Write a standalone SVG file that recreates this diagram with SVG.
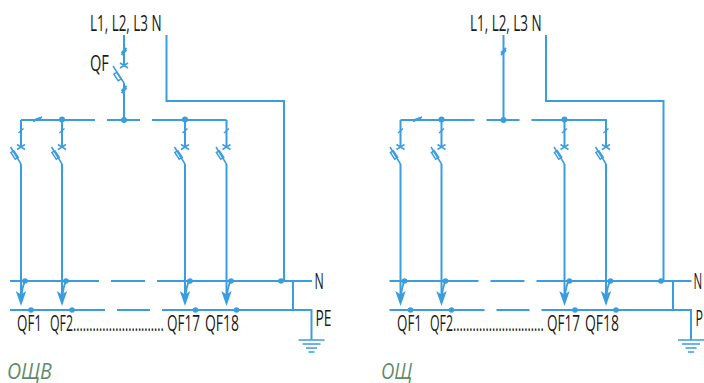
<svg xmlns="http://www.w3.org/2000/svg" xmlns:xlink="http://www.w3.org/1999/xlink" width="704" height="383" viewBox="0 0 704 383">
<style>
.w{fill:none;stroke:#3a9de0;stroke-width:2}
.t{fill:none;stroke:#3a9de0;stroke-width:1.500}
.k{fill:none;stroke:#3a9de0;stroke-width:1.800}
.d{fill:#3a9de0;stroke:none}
text{font-family:"Open Sans","Noto Sans",sans-serif;fill:#1a1a1a;font-size:21px}
.c{fill:#5f8a68;font-style:italic;font-size:22px}
</style>
<defs>
<g id="feeder">
<path class="w" d="M0 0V27"/>
<path class="t" d="M-2.500 13L2.500 8.500M-4 29.500L4 24.500M-4 24.500L4 29.500"/>
<path class="t" d="M-10.500 27L0 44"/>
<rect class="t" x="-8.200" y="31" width="3.500" height="8" transform="rotate(-33 -6.500 35)"/>
<path class="w" d="M0 44V176"/>
<path class="k" d="M4 161Q1.500 166 0.500 176"/>
<path class="d" d="M-5.200 171L0 174.500L5.200 171L0 186Z"/>
</g>
<g id="earth"><path class="w" d="M-13 0H13M-9 4H9M-5.500 8H5.500M-3 12H3" style="stroke-width:1.500"/></g>
</defs>
<g id="connectors">
<path class="w" d="M124 35V65M124 83V120"/>
<path class="w" d="M166.500 35V101H284V281"/>
<path class="w" d="M21 120H95M107 120H140M152 120H226.500M226.500 120V121"/>
<path class="w" d="M10 281H99M111 281H145M157 281H312M10 310H105M117 310H150M162 310H311.500V340M293 281V310" stroke-linejoin="miter"/>
<path class="k" d="M121.500 53L126.500 48M121.500 55L126.500 50M121.500 91L126.500 86M121.500 93L126.500 88"/>
<path class="t" d="M120 68L128 63M120 63L128 68M113 66L124 83"/>
<rect class="t" x="115.700" y="72.500" width="3.500" height="8" transform="rotate(-33 117.500 76.500)"/>
<path class="w" d="M503.500 35V120"/>
<path class="k" d="M501 53L506 48M501 55L506 50"/>
<path class="w" d="M546 35V101H663.500V281"/>
<path class="w" d="M400.500 120H474.500M486.500 120H519.500M531.500 120H606V121"/>
<path class="w" d="M389.500 281H478.500M490.500 281H524.500M536.500 281H691.500M389.500 310H484.500M496.500 310H529.500M541.500 310H691V340M673 281V310"/>
<path class="k" d="M33 121.500L41 118M34 120L42 117"/>
<path class="k" d="M413 121.500L421 118M414 120L422 117"/>
</g>
<g id="left-feeders">
<use xlink:href="#feeder" href="#feeder" x="21" y="120"/>
<use xlink:href="#feeder" href="#feeder" x="62" y="120"/>
<use xlink:href="#feeder" href="#feeder" x="185" y="120"/>
<use xlink:href="#feeder" href="#feeder" x="226.500" y="120"/>
</g>
<g id="right-feeders">
<use xlink:href="#feeder" href="#feeder" x="400.500" y="120"/>
<use xlink:href="#feeder" href="#feeder" x="441.500" y="120"/>
<use xlink:href="#feeder" href="#feeder" x="564.500" y="120"/>
<use xlink:href="#feeder" href="#feeder" x="606" y="120"/>
</g>
<g id="dots" class="d">
<circle cx="124" cy="120" r="3"/><circle cx="62" cy="119.500" r="3"/><circle cx="185" cy="119.500" r="3"/>
<circle cx="25" cy="281" r="2.800"/><circle cx="66" cy="281" r="2.800"/><circle cx="190" cy="281" r="2.800"/><circle cx="231" cy="281" r="2.800"/><circle cx="281" cy="281" r="2.800"/>
<circle cx="31" cy="310" r="2.800"/><circle cx="72" cy="310" r="2.800"/><circle cx="195.500" cy="310" r="2.800"/><circle cx="236.500" cy="310" r="2.800"/>
<circle cx="503.500" cy="120" r="3"/><circle cx="441.500" cy="119.500" r="3"/><circle cx="564.500" cy="119.500" r="3"/>
<circle cx="404.500" cy="281" r="2.800"/><circle cx="445.500" cy="281" r="2.800"/><circle cx="569.500" cy="281" r="2.800"/><circle cx="610.500" cy="281" r="2.800"/><circle cx="661" cy="281" r="2.800"/>
<circle cx="410.500" cy="310" r="2.800"/><circle cx="451.500" cy="310" r="2.800"/><circle cx="575" cy="310" r="2.800"/><circle cx="616" cy="310" r="2.800"/>
</g>
<use id="earth-left" xlink:href="#earth" href="#earth" x="311.500" y="340"/>
<use id="earth-right" xlink:href="#earth" href="#earth" x="691" y="340"/>
<g id="left-labels">
<text transform="translate(90 31) scale(.64 1)">L1, L2, L3 N</text>
<text transform="translate(90 71) scale(.696 1)">QF</text>
<text transform="translate(17 331) scale(.636 1)">QF1</text>
<text transform="translate(50 331) scale(.588 1)">QF2............................</text>
<text transform="translate(167 331) scale(.643 1)">QF17</text>
<text transform="translate(205 331) scale(.663 1)">QF18</text>
<text transform="translate(314.500 289) scale(.586 1)">N</text>
<text transform="translate(315.500 326) scale(.658 1)">PE</text>
<text class="c" transform="translate(7 379) scale(.89 1)">ОЩВ</text>
</g>
<g id="right-labels">
<text transform="translate(470 31) scale(.64 1)">L1, L2, L3 N</text>
<text transform="translate(397 331) scale(.636 1)">QF1</text>
<text transform="translate(430 331) scale(.588 1)">QF2............................</text>
<text transform="translate(547 331) scale(.643 1)">QF17</text>
<text transform="translate(585 331) scale(.663 1)">QF18</text>
<text transform="translate(693.500 289) scale(.55 1)">N</text>
<text transform="translate(695.500 326) scale(.59 1)">P</text>
<text class="c" transform="translate(381 379) scale(.84 1)">ОЩ</text>
</g>
</svg>
